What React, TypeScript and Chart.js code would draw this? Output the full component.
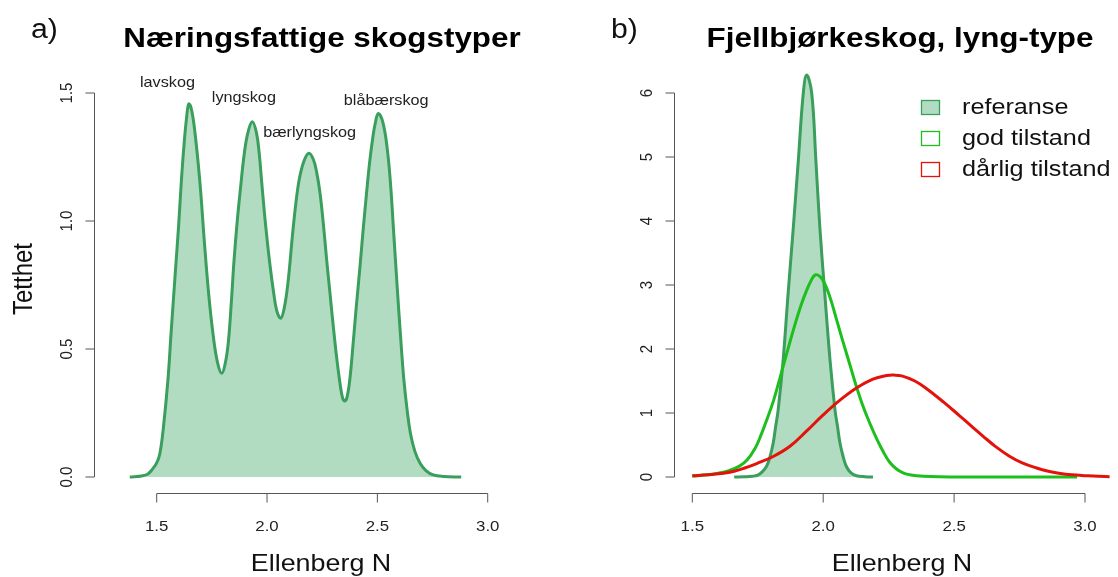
import React, { useEffect, useRef } from "react";
import { Chart, registerables } from "chart.js";

Chart.register(...registerables);

// ---------- Panel a: Næringsfattige skogstyper ----------
const aX = [1.378, 1.4, 1.43, 1.46, 1.48, 1.5, 1.514, 1.53, 1.551, 1.565, 1.582, 1.6, 1.612, 1.625, 1.635, 1.645, 1.655, 1.67, 1.695, 1.715, 1.735, 1.755, 1.775, 1.795, 1.812, 1.825, 1.838, 1.85, 1.865, 1.88, 1.895, 1.912, 1.933, 1.952, 1.965, 1.976, 1.994, 2.013, 2.03, 2.044, 2.062, 2.078, 2.095, 2.117, 2.135, 2.15, 2.17, 2.19, 2.21, 2.225, 2.24, 2.255, 2.27, 2.285, 2.3, 2.315, 2.33, 2.342, 2.352, 2.362, 2.375, 2.39, 2.405, 2.42, 2.435, 2.45, 2.465, 2.48, 2.49, 2.504, 2.525, 2.545, 2.56, 2.575, 2.59, 2.605, 2.62, 2.635, 2.65, 2.67, 2.693, 2.72, 2.753, 2.8, 2.88];
const aY = [0, 0.001, 0.004, 0.012, 0.03, 0.055, 0.09, 0.19, 0.38, 0.56, 0.77, 0.99, 1.16, 1.31, 1.4, 1.457, 1.445, 1.37, 1.16, 0.93, 0.72, 0.56, 0.45, 0.405, 0.45, 0.53, 0.68, 0.84, 1.0, 1.13, 1.25, 1.34, 1.388, 1.345, 1.26, 1.15, 0.98, 0.83, 0.72, 0.65, 0.62, 0.66, 0.76, 0.96, 1.1, 1.18, 1.24, 1.265, 1.24, 1.19, 1.11, 0.99, 0.85, 0.72, 0.59, 0.47, 0.37, 0.31, 0.297, 0.31, 0.38, 0.52, 0.67, 0.81, 0.96, 1.1, 1.23, 1.33, 1.38, 1.42, 1.385, 1.28, 1.14, 0.94, 0.74, 0.55, 0.38, 0.26, 0.17, 0.1, 0.055, 0.025, 0.008, 0.002, 0];
const aNames = ["lavskog", "lyngskog", "bærlyngskog", "blåbærskog"];
const aNameX = [1.549, 1.895, 2.193, 2.54];
const aNameY = [1.523, 1.465, 1.328, 1.453];
const aXTicks = [1.5, 2.0, 2.5, 3.0];
const aXTickLabels = ["1.5", "2.0", "2.5", "3.0"];
const aYTicks = [0, 0.5, 1.0, 1.5];
const aYTickLabels = ["0.0", "0.5", "1.0", "1.5"];

// ---------- Panel b: Fjellbjørkeskog, lyng-type ----------
const seriesNames = ["referanse", "god tilstand", "dårlig tilstand"];
const refX = [1.66, 1.7, 1.73, 1.75, 1.767, 1.784, 1.797, 1.809, 1.818, 1.828, 1.847, 1.866, 1.886, 1.905, 1.924, 1.937, 1.956, 1.972, 1.987, 2.006, 2.026, 2.045, 2.055, 2.064, 2.076, 2.089, 2.105, 2.127, 2.16, 2.19];
const refY = [0, 0.004, 0.012, 0.03, 0.08, 0.17, 0.32, 0.53, 0.78, 1.05, 1.83, 2.87, 3.91, 4.95, 6.0, 6.28, 6.0, 4.95, 3.91, 2.87, 1.83, 1.05, 0.78, 0.53, 0.32, 0.16, 0.07, 0.02, 0.005, 0];
const godX = [1.5, 1.55, 1.6, 1.64, 1.68, 1.71, 1.74, 1.76, 1.785, 1.81, 1.835, 1.86, 1.892, 1.915, 1.937, 1.955, 1.971, 1.988, 2.005, 2.02, 2.035, 2.051, 2.07, 2.089, 2.108, 2.127, 2.15, 2.178, 2.204, 2.23, 2.254, 2.28, 2.305, 2.33, 2.356, 2.41, 2.5, 2.7, 2.97];
const godY = [0.015, 0.03, 0.06, 0.1, 0.17, 0.27, 0.45, 0.63, 0.9, 1.19, 1.55, 1.92, 2.38, 2.68, 2.92, 3.08, 3.16, 3.13, 3.03, 2.88, 2.69, 2.46, 2.19, 1.93, 1.67, 1.41, 1.13, 0.84, 0.6, 0.39, 0.23, 0.125, 0.065, 0.035, 0.02, 0.006, 0.001, 0, 0];
const darX = [1.5, 1.56, 1.61, 1.66, 1.7, 1.746, 1.809, 1.873, 1.937, 2.0, 2.064, 2.127, 2.19, 2.242, 2.27, 2.3, 2.35, 2.395, 2.46, 2.52, 2.565, 2.61, 2.66, 2.713, 2.76, 2.815, 2.86, 2.9, 2.95, 3.005, 3.05, 3.094];
const darY = [0.02, 0.035, 0.055, 0.09, 0.14, 0.21, 0.32, 0.48, 0.72, 0.97, 1.2, 1.39, 1.53, 1.585, 1.592, 1.58, 1.5, 1.38, 1.17, 0.96, 0.8, 0.64, 0.47, 0.32, 0.22, 0.14, 0.09, 0.06, 0.035, 0.02, 0.01, 0.005];
const bXTicks = [1.5, 2.0, 2.5, 3.0];
const bXTickLabels = ["1.5", "2.0", "2.5", "3.0"];
const bYTicks = [0, 1, 2, 3, 4, 5, 6];
const bYTickLabels = ["0", "1", "2", "3", "4", "5", "6"];

// ---------- styles ----------
const FONT = "'Liberation Sans', Arial, sans-serif";
const SX = 1.12;
const FILL = "#B2DCC1";
const REF_LINE = "#3A9E5C";
const GOD_LINE = "#1DBF1D";
const BAD_LINE = "#E3120B";
const AXIS = "#555";
const TEXT = "#222";

function txt(ctx: CanvasRenderingContext2D, s: string, x: number, y: number, font: string, align: CanvasTextAlign, baseline: CanvasTextBaseline, rot = 0, color = TEXT) {
  ctx.save();
  ctx.translate(x, y);
  ctx.scale(SX, 1);
  if (rot) ctx.rotate(rot);
  ctx.font = font;
  ctx.textAlign = align;
  ctx.textBaseline = baseline;
  ctx.fillStyle = color;
  ctx.fillText(s, 0, 0);
  ctx.restore();
}

type Deco = {
  xTicks: number[]; xLabels: string[]; yTicks: number[]; yLabels: string[];
  tag: string; tagX: number; title: string; titleX: number; xTitleX: number;
  yTitle?: string;
  notes?: { names: string[]; xs: number[]; ys: number[] };
  legend?: { x: number; ys: number[] };
};

function makeDeco(d: Deco) {
  return {
    id: "rdeco",
    afterDraw(chart: any) {
      const ctx: CanvasRenderingContext2D = chart.ctx;
      const xs = chart.scales.x, ys = chart.scales.y;
      const ca = chart.chartArea;
      const ay = Math.round(ca.bottom) - 0.5;
      const ax = Math.round(ca.left) + 0.5;
      ctx.save();
      ctx.strokeStyle = AXIS;
      ctx.lineWidth = 1;
      ctx.beginPath();
      const px0 = xs.getPixelForValue(d.xTicks[0]);
      const px1 = xs.getPixelForValue(d.xTicks[d.xTicks.length - 1]);
      ctx.moveTo(px0, ay); ctx.lineTo(px1, ay);
      d.xTicks.forEach((v) => { const p = xs.getPixelForValue(v); ctx.moveTo(p, ay); ctx.lineTo(p, ay + 9); });
      const py0 = ys.getPixelForValue(d.yTicks[0]);
      const py1 = ys.getPixelForValue(d.yTicks[d.yTicks.length - 1]);
      ctx.moveTo(ax, py0); ctx.lineTo(ax, py1);
      d.yTicks.forEach((v) => { const p = ys.getPixelForValue(v); ctx.moveTo(ax, p); ctx.lineTo(ax - 9, p); });
      ctx.stroke();
      ctx.restore();
      const tickFont = `15px ${FONT}`;
      d.xTicks.forEach((v, i) => txt(ctx, d.xLabels[i], xs.getPixelForValue(v), ay + 37.5, tickFont, "center", "alphabetic"));
      d.yTicks.forEach((v, i) => txt(ctx, d.yLabels[i], ax - 23, ys.getPixelForValue(v), tickFont, "center", "alphabetic", -Math.PI / 2));
      txt(ctx, "Ellenberg N", d.xTitleX, 571, `24px ${FONT}`, "center", "alphabetic", 0, "#111");
      if (d.yTitle) txt(ctx, d.yTitle, 31.5, 279, `24px ${FONT}`, "center", "alphabetic", -Math.PI / 2, "#111");
      txt(ctx, d.tag, d.tagX, 38, `27px ${FONT}`, "left", "alphabetic", 0, "#111");
      txt(ctx, d.title, d.titleX, 47, `bold 28px ${FONT}`, "center", "alphabetic", 0, "#000");
      if (d.notes) {
        const nt = d.notes;
        nt.names.forEach((n, i) => txt(ctx, n, xs.getPixelForValue(nt.xs[i]), ys.getPixelForValue(nt.ys[i]), `14.5px ${FONT}`, "center", "alphabetic"));
      }
      if (d.legend) {
        const lg = d.legend;
        const ds = chart.data.datasets;
        lg.ys.forEach((cy: number, i: number) => {
          const bx = lg.x;
          ctx.save();
          ctx.fillStyle = i === 0 ? FILL : "#fff";
          ctx.fillRect(bx, cy - 7.5, 19, 15);
          ctx.strokeStyle = ds[i].borderColor;
          ctx.lineWidth = 1.3;
          ctx.strokeRect(bx + 0.5, cy - 7, 18, 14);
          ctx.restore();
          txt(ctx, ds[i].label, bx + 41, cy, `22.5px ${FONT}`, "left", "middle", 0, "#111");
        });
      }
    },
  };
}

function toPts(xs: number[], ys: number[]) {
  return xs.map((x, i) => ({ x, y: ys[i] }));
}

const lineCommon = { pointRadius: 0, borderWidth: 3, tension: 0.4, cubicInterpolationMode: "default" };

function PanelA() {
  const ref = useRef<HTMLCanvasElement>(null);
  useEffect(() => {
    const chart = new Chart(ref.current!, {
      type: "line",
      data: {
        datasets: [
          {
            ...lineCommon,
            label: "Næringsfattige skogstyper",
            data: toPts(aX, aY),
            fill: "origin",
            backgroundColor: FILL,
            borderColor: REF_LINE,
          },
        ],
      },
      options: {
        animation: false,
        responsive: false,
        events: [],
        layout: { padding: { left: 94, right: 49, top: 60, bottom: 83 } },
        scales: {
          x: { type: "linear", min: 1.2159, max: 3.101, display: false },
          y: { type: "linear", min: -17 / 256, max: 417 / 256, display: false },
        },
        plugins: { legend: { display: false }, tooltip: { enabled: false } },
      },
      plugins: [
        makeDeco({
          xTicks: aXTicks, xLabels: aXTickLabels, yTicks: aYTicks, yLabels: aYTickLabels,
          tag: "a)", tagX: 31, title: "Næringsfattige skogstyper", titleX: 322, xTitleX: 321,
          yTitle: "Tetthet",
          notes: { names: aNames, xs: aNameX, ys: aNameY },
        }),
      ],
    } as any);
    return () => chart.destroy();
  }, []);
  return <canvas ref={ref} width={559} height={577} style={{ position: "absolute", left: 0, top: 0 }} />;
}

function PanelB() {
  const ref = useRef<HTMLCanvasElement>(null);
  useEffect(() => {
    const chart = new Chart(ref.current!, {
      type: "line",
      data: {
        datasets: [
          { ...lineCommon, label: seriesNames[0], data: toPts(refX, refY), fill: "origin", backgroundColor: FILL, borderColor: REF_LINE, order: 3 },
          { ...lineCommon, label: seriesNames[1], data: toPts(godX, godY), fill: false, borderColor: GOD_LINE, order: 2 },
          { ...lineCommon, label: seriesNames[2], data: toPts(darX, darY), fill: false, borderColor: BAD_LINE, order: 1 },
        ],
      },
      options: {
        animation: false,
        responsive: false,
        events: [],
        layout: { padding: { left: 115, right: 0, top: 60, bottom: 83 } },
        scales: {
          x: { type: "linear", min: 1.4301, max: 3.126, display: false },
          y: { type: "linear", min: -17 / 64, max: 417 / 64, display: false },
        },
        plugins: { legend: { display: false }, tooltip: { enabled: false } },
      },
      plugins: [
        makeDeco({
          xTicks: bXTicks, xLabels: bXTickLabels, yTicks: bYTicks, yLabels: bYTickLabels,
          tag: "b)", tagX: 52, title: "Fjellbjørkeskog, lyng-type", titleX: 341, xTitleX: 343,
          legend: { x: 362, ys: [107.5, 138.5, 169.5] },
        }),
      ],
    } as any);
    return () => chart.destroy();
  }, []);
  return <canvas ref={ref} width={559} height={577} style={{ position: "absolute", left: 559, top: 0 }} />;
}

export default function App() {
  return (
    <div style={{ position: "absolute", left: 0, top: 0, width: 1118, height: 577, background: "#fff", overflow: "hidden" }}>
      <PanelA />
      <PanelB />
    </div>
  );
}
